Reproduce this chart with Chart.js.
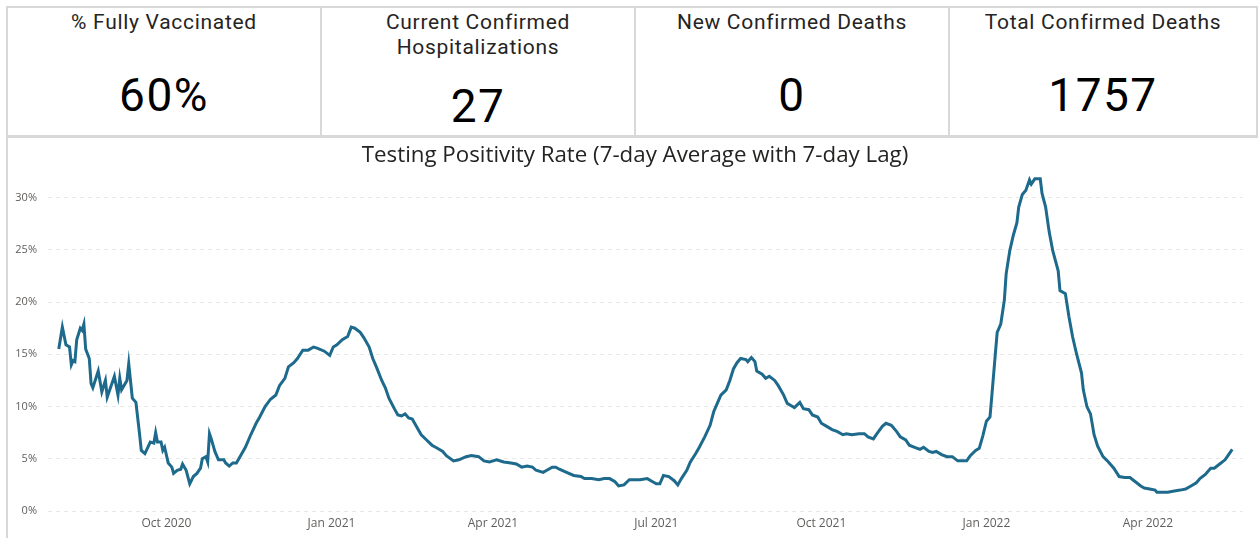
<html>
  <head>
    <title>COVID dashboard</title>
    <style>
      body {
        margin: 0;
        background: #fff;
        width: 1258px;
        height: 538px;
        overflow: hidden;
        position: relative;
        font-family: Roboto, 'Noto Sans', sans-serif;
      }
      .card {
        position: absolute;
        top: 6px;
        height: 131px;
        border: 2px solid #d6d8da;
        box-sizing: border-box;
        text-align: center;
        color: #252423;
      }
      .card .t {
        position: absolute;
        left: 0;
        right: 0;
        top: 2px;
        font-size: 21px;
        line-height: 25px;
        letter-spacing: 0.7px;
      }
      .card .v {
        position: absolute;
        left: 0;
        right: 0;
        font-size: 46px;
        line-height: 50px;
        letter-spacing: 1.5px;
        color: #000;
      }
      #frame {
        position: absolute;
        left: 6px;
        top: 136px;
        width: 1252px;
        height: 410px;
        border: 2px solid #d6d8da;
        border-right: none;
        box-sizing: border-box;
      }
      #wrap {
        position: absolute;
        left: 7px;
        top: 139px;
        width: 1249px;
        height: 399px;
      }
    </style>
    <script src="https://cdn.jsdelivr.net/npm/chart.js@4"></script>
    <script>
      // KPI cards
      const kpiTitles = ['% Fully Vaccinated', 'Current Confirmed<br>Hospitalizations', 'New Confirmed Deaths', 'Total Confirmed Deaths'];
      const kpiValues = ['60%', '27', '0', '1757'];

      // days counted from 2020-08-01
      const dayOffsets = [
        1, 3, 5, 7, 8, 9, 10, 11, 13, 14, 15, 16, 18, 19, 20, 23, 25, 27, 28, 30,
        32, 34, 35, 36, 39, 40, 42, 44, 46, 47, 49, 52, 54, 55, 56, 58, 59, 60, 62, 64,
        65, 67, 69, 70, 72, 74, 76, 78, 80, 81, 83, 84, 85, 86, 88, 90, 93, 94, 96, 98,
        100, 102, 105, 108, 111, 113, 116, 119, 122, 124, 127, 129, 132, 134, 137, 140, 143, 145, 149, 152,
        154, 156, 159, 162, 164, 166, 169, 171, 174, 176, 178, 181, 183, 185, 188, 190, 192, 194, 196, 198,
        201, 203, 206, 209, 212, 215, 217, 221, 224, 228, 231, 235, 238, 241, 245, 249, 253, 256, 259, 262,
        265, 267, 271, 273, 276, 278, 280, 284, 288, 292, 294, 298, 302, 305, 308, 311, 313, 316, 319, 322,
        325, 329, 332, 334, 336, 338, 341, 344, 346, 348, 351, 353, 356, 358, 361, 364, 366, 368, 370, 373,
        375, 377, 379, 381, 384, 385, 387, 389, 390, 393, 395, 397, 400, 402, 405, 407, 409, 411, 414, 416,
        419, 421, 424, 426, 429, 432, 435, 438, 440, 443, 447, 450, 452, 455, 457, 460, 462, 465, 468, 470,
        473, 475, 478, 481, 483, 486, 488, 490, 493, 496, 499, 502, 504, 507, 509, 512, 514, 516, 518, 520,
        521, 523, 524, 526, 528, 529, 531, 533, 535, 536, 538, 540, 542, 543, 545, 548, 549, 551, 553, 555,
        558, 559, 562, 564, 566, 568, 571, 572, 574, 576, 578, 580, 583, 586, 589, 592, 595, 598, 601, 604,
        606, 609, 612, 613, 616, 619, 622, 626, 629, 632, 635, 637, 640, 643, 645, 648, 651, 653, 655
      ];
      const positivity = [
        15.5, 17.6, 15.9, 15.7, 14.0, 14.4, 14.3, 16.4, 17.5, 17.3, 17.9, 15.5, 14.6, 12.2, 11.8, 13.4, 11.4, 12.5, 10.9, 11.9,
        12.9, 11.1, 12.7, 11.6, 12.5, 14.1, 10.8, 10.4, 7.4, 5.8, 5.5, 6.6, 6.5, 7.5, 6.6, 6.6, 5.8, 6.1, 4.6, 4.2,
        3.6, 3.9, 4.0, 4.5, 3.9, 2.6, 3.3, 3.6, 4.1, 5.0, 5.2, 4.7, 7.4, 6.9, 5.7, 4.9, 4.9, 4.6, 4.3, 4.6,
        4.6, 5.2, 6.1, 7.3, 8.4, 9.0, 10.0, 10.7, 11.1, 12.0, 12.7, 13.8, 14.2, 14.6, 15.4, 15.4, 15.7, 15.6, 15.3, 14.9,
        15.7, 15.9, 16.4, 16.7, 17.6, 17.5, 17.1, 16.6, 15.7, 14.6, 13.8, 12.5, 11.8, 10.8, 9.8, 9.2, 9.1, 9.3, 8.9, 8.8,
        7.9, 7.3, 6.8, 6.3, 6.0, 5.7, 5.3, 4.8, 4.9, 5.2, 5.3, 5.2, 4.8, 4.7, 4.9, 4.7, 4.6, 4.5, 4.2, 4.3,
        4.2, 3.9, 3.7, 3.9, 4.2, 4.2, 4.0, 3.7, 3.4, 3.3, 3.1, 3.1, 3.0, 3.1, 3.1, 2.8, 2.4, 2.5, 3.0, 3.0,
        3.0, 3.1, 2.8, 2.6, 2.6, 3.4, 3.3, 2.9, 2.5, 3.1, 3.9, 4.7, 5.5, 6.1, 7.1, 8.2, 9.5, 10.3, 11.1, 11.6,
        12.5, 13.6, 14.2, 14.6, 14.5, 14.3, 14.7, 14.3, 13.4, 13.1, 12.7, 12.9, 12.5, 12.0, 11.1, 10.3, 10.1, 9.9, 10.4, 9.8,
        9.7, 9.2, 9.0, 8.4, 8.1, 7.8, 7.6, 7.3, 7.4, 7.3, 7.4, 7.4, 7.1, 6.9, 7.4, 8.1, 8.4, 8.2, 7.6, 7.1,
        6.8, 6.3, 6.1, 5.9, 6.1, 5.7, 5.6, 5.7, 5.4, 5.2, 5.2, 4.8, 4.8, 4.8, 5.3, 5.8, 6.0, 7.2, 8.6, 9.0,
        11.0, 15.1, 17.1, 17.9, 20.2, 22.7, 24.9, 26.4, 27.6, 29.1, 30.3, 30.7, 31.7, 31.3, 31.8, 31.8, 30.4, 29.1, 26.7, 24.9,
        23.0, 21.1, 20.8, 18.6, 16.7, 15.2, 13.2, 11.6, 10.0, 9.3, 7.3, 6.2, 5.2, 4.7, 4.1, 3.3, 3.2, 3.2, 2.8, 2.4,
        2.2, 2.1, 2.0, 1.8, 1.8, 1.8, 1.9, 2.0, 2.1, 2.4, 2.7, 3.1, 3.5, 4.1, 4.1, 4.5, 4.9, 5.4, 5.9
      ];

      const tickDays = [61, 153, 243, 334, 426, 518, 608];
      const tickLabels = ['Oct 2020', 'Jan 2021', 'Apr 2021', 'Jul 2021', 'Oct 2021', 'Jan 2022', 'Apr 2022'];
      const yTicks = [0, 5, 10, 15, 20, 25, 30];

      // nudge the title a few px right, like the original visual
      const titleShift = {
        id: 'titleShift',
        afterLayout: (chart) => {
          if (chart.titleBlock) {
            chart.titleBlock.left += 6;
            chart.titleBlock.right += 6;
          }
        },
      };

      document.addEventListener('DOMContentLoaded', function () {
        const lefts = [6, 320, 634, 948];
        const widths = [316, 316, 316, 310];
        const valueTops = [62, 73, 62, 62];
        kpiTitles.forEach((t, i) => {
          const c = document.createElement('div');
          c.className = 'card';
          c.style.left = lefts[i] + 'px';
          c.style.width = widths[i] + 'px';
          c.innerHTML = '<div class="t">' + t + '</div><div class="v" style="top:' + valueTops[i] + 'px">' + kpiValues[i] + '</div>';
          document.body.appendChild(c);
        });

        const points = dayOffsets.map((d, i) => ({ x: d, y: positivity[i] }));

        new Chart(document.getElementById('canvas'), {
          type: 'line',
          data: {
            datasets: [
              {
                label: 'Testing Positivity Rate',
                data: points,
                borderColor: '#1d6a8c',
                borderWidth: 3,
                pointRadius: 0,
                tension: 0,
                fill: false,
              },
            ],
          },
          plugins: [titleShift],
          options: {
            responsive: true,
            maintainAspectRatio: false,
            animation: false,
            layout: { padding: { left: 8, right: 13, top: 0, bottom: 0 } },
            plugins: {
              legend: { display: false },
              tooltip: { enabled: false },
              title: {
                display: true,
                text: 'Testing Positivity Rate (7-day Average with 7-day Lag)',
                color: '#252423',
                font: { family: "'Open Sans', sans-serif", size: 22.3, weight: 'normal', lineHeight: 1 },
                padding: { top: 5, bottom: 0 },
              },
            },
            scales: {
              x: {
                type: 'linear',
                min: -5,
                max: 661,
                afterBuildTicks: (scale) => {
                  scale.ticks = tickDays.map((v) => ({ value: v }));
                },
                afterFit: (scale) => {
                  scale.height = 27;
                },
                grid: { display: false, drawTicks: false },
                border: { display: false },
                ticks: {
                  autoSkip: false,
                  maxRotation: 0,
                  padding: 5,
                  color: '#605e5c',
                  font: { family: "'Open Sans', sans-serif", size: 12 },
                  callback: (v) => tickLabels[tickDays.indexOf(v)],
                },
              },
              y: {
                min: 0,
                max: 33,
                afterBuildTicks: (scale) => {
                  scale.ticks = yTicks.map((v) => ({ value: v }));
                },
                afterFit: (scale) => {
                  scale.width = 33;
                },
                grid: { color: '#e8e8e8', lineWidth: 1, drawTicks: false },
                border: { display: false, dash: [4, 4] },
                ticks: {
                  padding: 11,
                  color: '#605e5c',
                  font: { family: "'Open Sans', sans-serif", size: 11 },
                  callback: (v) => v + '%',
                },
              },
            },
          },
        });
      });
    </script>
  </head>
  <body>
    <div id="frame"></div>
    <div id="wrap"><canvas id="canvas"></canvas></div>
  </body>
</html>
